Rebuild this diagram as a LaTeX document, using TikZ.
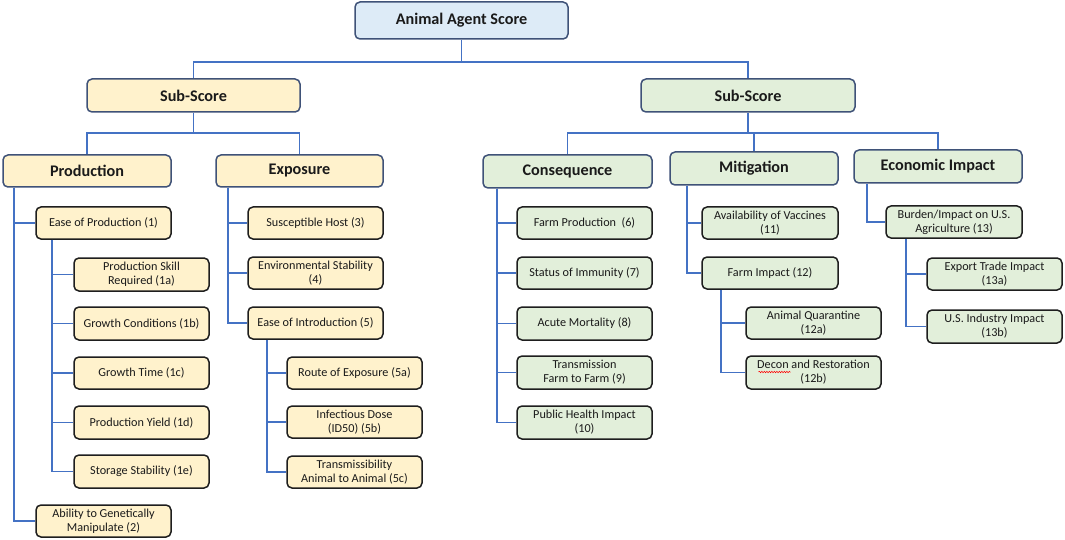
\documentclass[tikz,border=0pt]{standalone}
\usepackage{fontspec}
\setmainfont{Carlito}
\usetikzlibrary{decorations.pathmorphing}
\definecolor{yel}{HTML}{FFF2CC}
\definecolor{grn}{HTML}{E2EFDA}
\definecolor{blu}{HTML}{DDEBF7}
\definecolor{conn}{HTML}{4472C4}
\definecolor{hbord}{HTML}{3F5278}
\definecolor{cbord}{HTML}{1E1E1E}
\definecolor{txt}{HTML}{1A1A1A}
\tikzset{
  box/.style={rounded corners=5pt, line width=1.5pt, inner sep=1pt, text=txt, align=center,
    font=\fontsize{12.2}{14}\selectfont},
  head/.style={box, draw=hbord, font=\bfseries\fontsize{16.2}{19}\selectfont},
  child/.style={box, draw=cbord},
  yb/.style={fill=yel}, gb/.style={fill=grn}, bb/.style={fill=blu},
  wire/.style={draw=conn, line width=1.6pt},
}
\newcommand\bx[7]{\node[#1, minimum width={#5-#3}, minimum height={#6-#4}] (#2) at ({(#3+#5)/2},{(#4+#6)/2}) {#7};}
\begin{document}
\begin{tikzpicture}[x=1pt,y=-1pt]
\useasboundingbox[fill=white] (0,0) rectangle (1065,540);
% top level
\bx{head,bb}{top}{355}{2}{568}{39}{Animal Agent Score}
\bx{head,yb}{ssL}{87}{79}{300}{112}{Sub-Score}
\bx{head,gb}{ssR}{641}{79}{855}{112}{Sub-Score}
\bx{head,yb}{prod}{3}{155}{171}{187}{Production}
\bx{head,yb}{expo}{216}{155}{383}{187}{Exposure}
\bx{head,gb}{cons}{483}{155}{652}{188}{Consequence}
\bx{head,gb}{miti}{670}{152}{838}{185}{Mitigation}
\bx{head,gb}{econ}{854}{150}{1022}{183}{Economic Impact}
% production
\bx{child,yb}{p1}{36}{207}{171}{239}{Ease of Production (1)}
\bx{child,yb}{p1a}{74}{258}{209}{291}{Production Skill\\Required (1a)}
\bx{child,yb}{p1b}{74}{307}{209}{340}{Growth Conditions (1b)}
\bx{child,yb}{p1c}{74}{357}{209}{389}{Growth Time (1c)}
\bx{child,yb}{p1d}{74}{406}{209}{439}{Production Yield (1d)}
\bx{child,yb}{p1e}{74}{455}{209}{488}{Storage Stability (1e)}
\bx{child,yb}{p2}{36}{505}{171}{537}{Ability to Genetically\\Manipulate (2)}
% exposure
\bx{child,yb}{e3}{248}{207}{383}{239}{Susceptible Host (3)}
\bx{child,yb}{e4}{248}{257}{383}{289}{Environmental Stability\\(4)}
\bx{child,yb}{e5}{248}{307}{383}{339}{Ease of Introduction (5)}
\bx{child,yb}{e5a}{287}{357}{422}{389}{Route of Exposure (5a)}
\bx{child,yb}{e5b}{287}{406}{422}{438}{Infectious Dose\\(ID50) (5b)}
\bx{child,yb}{e5c}{287}{456}{422}{488}{Transmissibility\\Animal to Animal (5c)}
% consequence
\bx{child,gb}{c6}{517}{207}{652}{239}{Farm Production\ \ (6)}
\bx{child,gb}{c7}{517}{257}{652}{289}{Status of Immunity (7)}
\bx{child,gb}{c8}{517}{307}{652}{340}{Acute Mortality (8)}
\bx{child,gb}{c9}{517}{356}{652}{389}{Transmission\\Farm to Farm (9)}
\bx{child,gb}{c10}{517}{406}{652}{439}{Public Health Impact\\(10)}
% mitigation
\bx{child,gb}{m11}{702}{207}{838}{239}{Availability of Vaccines\\(11)}
\bx{child,gb}{m12}{702}{257}{838}{289}{Farm Impact (12)}
\bx{child,gb}{m12a}{746}{307}{881}{339}{Animal Quarantine\\(12a)}
\bx{child,gb}{m12b}{746}{356}{881}{389}{Decon and Restoration\\(12b)}
% economic
\bx{child,gb}{b13}{886}{206}{1022}{238}{Burden/Impact on U.S.\\Agriculture (13)}
\bx{child,gb}{b13a}{927}{258}{1062}{290}{Export Trade Impact\\(13a)}
\bx{child,gb}{b13b}{927}{310}{1062}{343}{U.S. Industry Impact\\(13b)}
% connectors top
\coordinate (jt) at (top.south |- 0,62);
\draw[wire] (top.south) -- (jt) -| (ssL.north);
\draw[wire] (jt) -| (ssR.north);
\coordinate (jl) at (ssL.south |- 0,133);
\draw[wire] (ssL.south) -- (jl) -| (prod.north);
\draw[wire] (jl) -| (expo.north);
\coordinate (jr) at (ssR.south |- 0,133);
\draw[wire] (ssR.south) -- (jr) -| (cons.north);
\draw[wire] (jr) -| (miti.north);
\draw[wire] (jr) -| (econ.north);
% stems
\foreach \c in {p1,p2} \draw[wire] ([xshift=12pt]prod.south west) |- (\c.west);
\foreach \c in {p1a,p1b,p1c,p1d,p1e} \draw[wire] ([xshift=17pt]p1.south west) |- (\c.west);
\foreach \c in {e3,e4,e5} \draw[wire] ([xshift=13pt]expo.south west) |- (\c.west);
\foreach \c in {e5a,e5b,e5c} \draw[wire] ([xshift=20pt]e5.south west) |- (\c.west);
\foreach \c in {c6,c7,c8,c9,c10} \draw[wire] ([xshift=15pt]cons.south west) |- (\c.west);
\foreach \c in {m11,m12} \draw[wire] ([xshift=18pt]miti.south west) |- (\c.west);
\foreach \c in {m12a,m12b} \draw[wire] ([xshift=20pt]m12.south west) |- (\c.west);
\foreach \c in {b13} \draw[wire] ([xshift=14pt]econ.south west) |- (\c.west);
\foreach \c in {b13a,b13b} \draw[wire] ([xshift=21pt]b13.south west) |- (\c.west);
% spell-check squiggle under "Decon"
\draw[red, line width=0.5pt, decorate, decoration={snake, amplitude=0.7pt, segment length=2.5pt}]
  ([xshift=-55pt,yshift=0.5pt]m12b.center) -- ([xshift=-23pt,yshift=0.5pt]m12b.center);
\end{tikzpicture}
\end{document}
